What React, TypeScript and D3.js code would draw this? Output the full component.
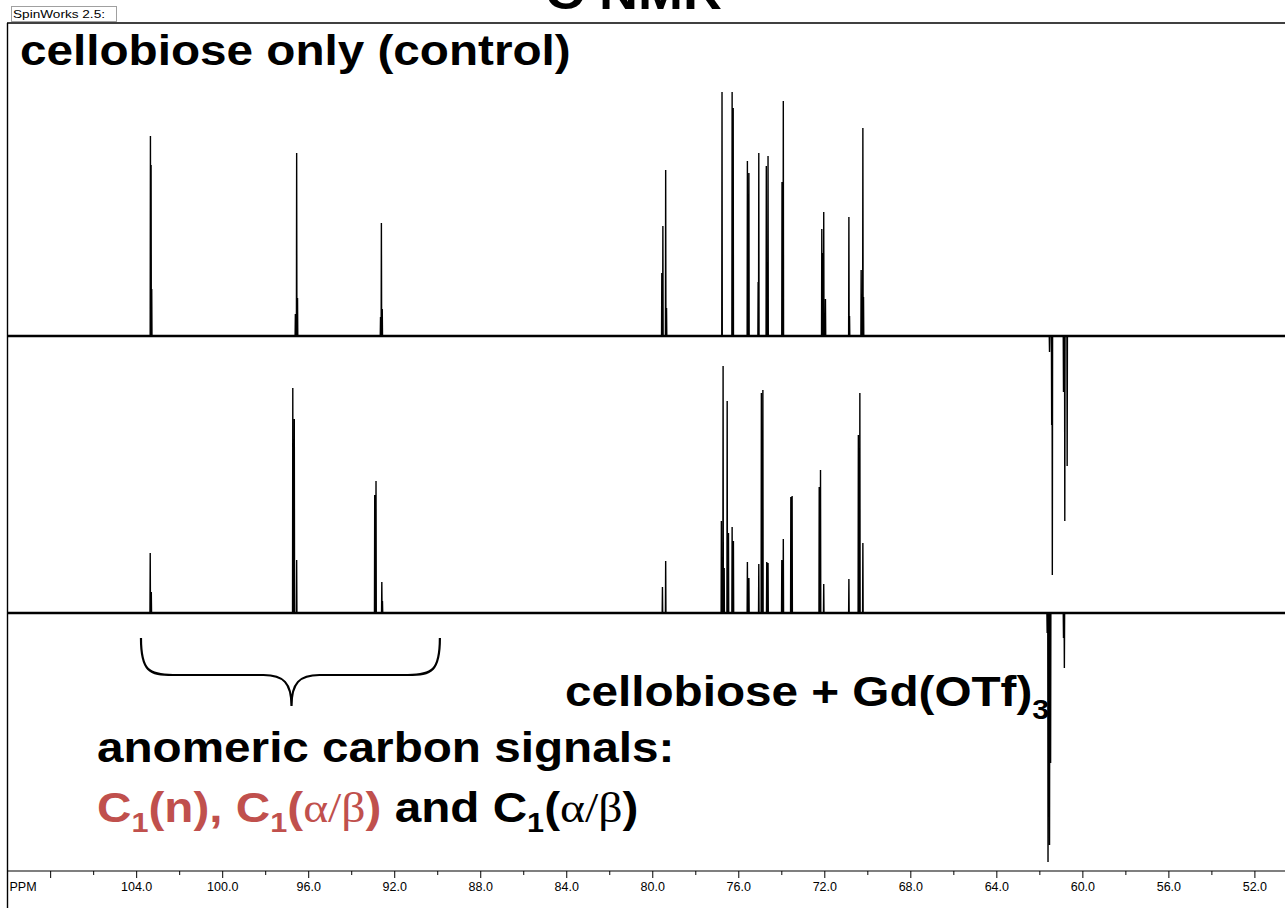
import React from "react";
import * as d3 from "d3";

// ---- data (ppm, intensity) ----
const TOP_PEAKS: [number, number][] = [
  [103.36, 200], [103.33, 171], [103.3, 47],
  [96.62, 22], [96.56, 183], [96.52, 38],
  [92.66, 19], [92.62, 113], [92.58, 27],
  [79.58, 63], [79.53, 110], [79.4, 166], [79.36, 28],
  [76.78, 244],
  [76.31, 244], [76.26, 228],
  [75.6, 175], [75.53, 163],
  [75.1, 54], [75.07, 183],
  [74.72, 170], [74.64, 180],
  [73.99, 154], [73.93, 235],
  [72.14, 107], [72.1, 83], [72.05, 124], [71.97, 37],
  [70.88, 119], [70.85, 20],
  [70.31, 66], [70.23, 208], [70.2, 39],
  [61.55, -16], [61.45, -89], [61.42, -239],
  [60.9, -56], [60.84, -185], [60.73, -130],
];

const BOTTOM_PEAKS: [number, number][] = [
  [103.37, 60], [103.32, 21],
  [96.74, 225], [96.67, 194], [96.56, 53],
  [92.93, 118], [92.87, 132], [92.6, 31], [92.57, 12],
  [79.55, 26], [79.4, 52],
  [76.81, 92], [76.73, 247], [76.68, 45], [76.54, 212], [76.48, 80],
  [76.31, 86], [76.25, 72],
  [75.6, 51], [75.53, 35],
  [75.07, 49], [74.95, 220], [74.88, 223], [74.7, 51], [74.64, 50],
  [74.0, 53], [73.93, 74],
  [73.58, 116], [73.52, 117],
  [72.26, 126], [72.2, 143], [72.05, 29],
  [70.88, 34],
  [70.44, 178], [70.37, 220], [70.23, 70],
  [61.66, -20], [61.62, -249], [61.55, -232], [61.5, -150],
  [60.9, -25], [60.86, -55],
];

const MAJOR_TICKS = [108, 104, 100, 96, 92, 88, 84, 80, 76, 72, 68, 64, 60, 56, 52];
const TICK_LABELS = ["", "104.0", "100.0", "96.0", "92.0", "88.0", "84.0", "80.0", "76.0", "72.0", "68.0", "64.0", "60.0", "56.0", "52.0"];
const MINOR_TICKS = [106, 102, 98, 94, 90, 86, 82, 78, 74, 70, 66, 62, 58, 54];

const PPM_DOMAIN: [number, number] = [110.03, 50.6];
const BRACE_PPM: [number, number, number] = [103.8, 96.8, 89.9];

const W = 1285;
const H = 908;
const LEFT = 7;
const FRAME_TOP = 23;
const AXIS_Y = 871;
const TOP_BASE = 336;
const BOT_BASE = 613;
const RED = "#c0504d";
const SANS = "'Liberation Sans', Arial, Helvetica, sans-serif";
const SERIF = "'Liberation Serif', 'Times New Roman', serif";
const SX = 1.135;

const x = d3.scaleLinear().domain(PPM_DOMAIN).range([LEFT, W]);

function spectrumPath(peaks: [number, number][], base: number): string {
  const y = d3.scaleLinear().domain([0, 250]).range([base, base - 250]);
  const sorted = [...peaks].sort((a, b) => b[0] - a[0]);
  const pts: [number, number][] = [[PPM_DOMAIN[0], 0]];
  const d = 0.012;
  sorted.forEach(([p, h]) => {
    pts.push([p + d, 0], [p, h], [p - d, 0]);
  });
  pts.push([PPM_DOMAIN[1], 0]);
  const line = d3
    .line<[number, number]>()
    .x((q) => x(q[0]))
    .y((q) => y(q[1]));
  return line(pts) || "";
}

export default function App() {
  const topPath = spectrumPath(TOP_PEAKS, TOP_BASE);
  const botPath = spectrumPath(BOTTOM_PEAKS, BOT_BASE);

  const bx0 = x(BRACE_PPM[0]);
  const bxm = x(BRACE_PPM[1]);
  const bx1 = x(BRACE_PPM[2]);
  const bTop = 638;
  const bFlat = 675;
  const bTip = 706;
  const r = 32;
  const bracePath = [
    `M${bx0},${bTop}`,
    `C${bx0},${bFlat - 4} ${bx0 + 8},${bFlat} ${bx0 + r},${bFlat}`,
    `L${bxm - r + 4},${bFlat}`,
    `C${bxm - 8},${bFlat} ${bxm},${bFlat + 8} ${bxm},${bTip}`,
    `C${bxm},${bFlat + 8} ${bxm + 8},${bFlat} ${bxm + r - 4},${bFlat}`,
    `L${bx1 - r},${bFlat}`,
    `C${bx1 - 8},${bFlat} ${bx1},${bFlat - 4} ${bx1},${bTop}`,
  ].join(" ");

  const subFs = 27;
  const greek = { fontFamily: SERIF, fontWeight: 400 as const };

  return (
    <svg
      width={W}
      height={H}
      viewBox={`0 0 ${W} ${H}`}
      style={{ position: "absolute", left: 0, top: 0, background: "#fff" }}
      fontFamily={SANS}
    >
      <rect x={0} y={0} width={W} height={H} fill="#fff" />

      {/* title, cut off at top as in the reference */}
      <text x={545} y={9} fontSize={48} fontWeight={700} fill="#000" textLength={177} lengthAdjust="spacingAndGlyphs">
        C NMR
      </text>

      {/* SpinWorks tag */}
      <rect x={11.5} y={6.5} width={105} height={15} fill="#fff" stroke="#a0a0a0" strokeWidth={1} />
      <text x={13} y={18} fontSize={11} fill="#000" textLength={92} lengthAdjust="spacingAndGlyphs">SpinWorks 2.5:</text>

      {/* frame */}
      <line x1={LEFT} x2={W} y1={FRAME_TOP} y2={FRAME_TOP} stroke="#000" strokeWidth={1.4} />
      <line x1={LEFT + 0.5} x2={LEFT + 0.5} y1={FRAME_TOP} y2={H} stroke="#000" strokeWidth={1.4} />
      <line x1={LEFT} x2={W} y1={AXIS_Y} y2={AXIS_Y} stroke="#000" strokeWidth={1.2} />

      {/* axis ticks */}
      {MAJOR_TICKS.map((t, i) => (
        <g key={"M" + t}>
          <line x1={x(t)} x2={x(t)} y1={AXIS_Y} y2={AXIS_Y + 7} stroke="#000" strokeWidth={1} />
          {TICK_LABELS[i] && (
            <text x={x(t)} y={891} fontSize={12.5} textAnchor="middle" fill="#000">
              {TICK_LABELS[i]}
            </text>
          )}
        </g>
      ))}
      {MINOR_TICKS.map((t) => (
        <line key={"m" + t} x1={x(t)} x2={x(t)} y1={AXIS_Y} y2={AXIS_Y + 4} stroke="#000" strokeWidth={1} />
      ))}
      <text x={9.5} y={891} fontSize={12.5} fill="#000">PPM</text>

      {/* spectra baselines (noise band) and peaks */}
      <line x1={LEFT} x2={W} y1={TOP_BASE} y2={TOP_BASE} stroke="#000" strokeWidth={2.4} />
      <line x1={LEFT} x2={W} y1={BOT_BASE} y2={BOT_BASE} stroke="#000" strokeWidth={2.4} />
      <path d={topPath} fill="none" stroke="#000" strokeWidth={1.4} strokeLinejoin="miter" />
      <path d={botPath} fill="none" stroke="#000" strokeWidth={1.4} strokeLinejoin="miter" />

      {/* labels */}
      <g transform={`translate(20,65) scale(${SX},1)`}>
        <text fontSize={42} fontWeight={700} fill="#000">cellobiose only (control)</text>
      </g>

      <g transform={`translate(565,706) scale(${SX},1)`}>
        <text fontSize={42} fontWeight={700} fill="#000">
          cellobiose + Gd(OTf)
          <tspan fontSize={subFs} dy={13}>3</tspan>
        </text>
      </g>

      <path d={bracePath} fill="none" stroke="#000" strokeWidth={2.2} />

      <g transform={`translate(97,762) scale(${SX},1)`}>
        <text fontSize={42} fontWeight={700} fill="#000">anomeric carbon signals:</text>
      </g>

      <g transform={`translate(97,822) scale(${SX},1)`}>
        <text fontSize={42} fontWeight={700}>
          <tspan fill={RED}>C</tspan>
          <tspan fill={RED} fontSize={subFs} dy={10}>1</tspan>
          <tspan fill={RED} dy={-10}>(n), C</tspan>
          <tspan fill={RED} fontSize={subFs} dy={10}>1</tspan>
          <tspan fill={RED} dy={-10}>(</tspan>
          <tspan fill={RED} {...greek}>α/β</tspan>
          <tspan fill={RED}>)</tspan>
          <tspan fill="#000"> and C</tspan>
          <tspan fill="#000" fontSize={subFs} dy={10}>1</tspan>
          <tspan fill="#000" dy={-10}>(</tspan>
          <tspan fill="#000" {...greek}>α/β</tspan>
          <tspan fill="#000">)</tspan>
        </text>
      </g>
    </svg>
  );
}
